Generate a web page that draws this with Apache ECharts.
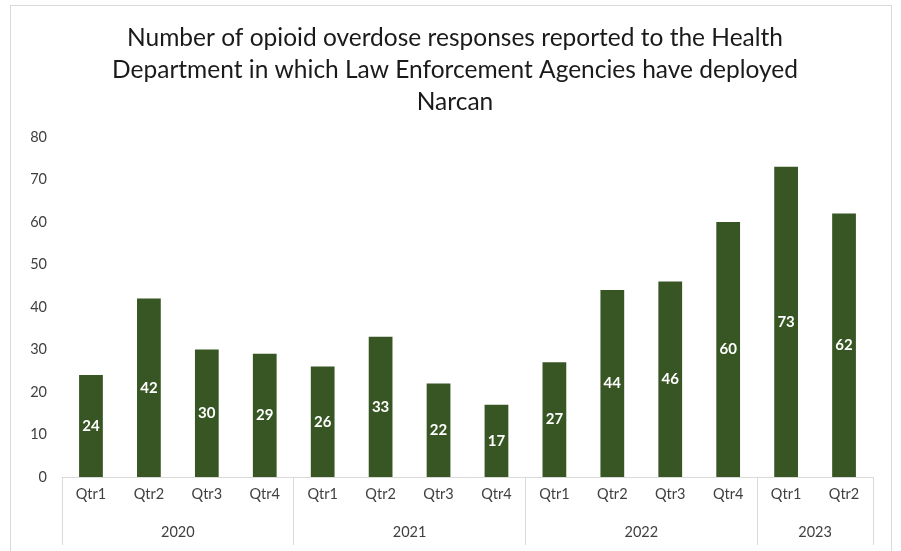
<!DOCTYPE html>
<html><head><meta charset="utf-8">
<script src="https://cdn.jsdelivr.net/npm/echarts@6/dist/echarts.min.js"></script>
<style>
html,body{margin:0;padding:0;background:#fff;}
#frame{position:absolute;left:10px;top:5px;width:882px;height:560px;border:1px solid #d9d9d9;box-sizing:border-box;}
#c{position:absolute;left:0;top:0;width:901px;height:551px;}
</style></head>
<body><div id="frame"></div><div id="c"></div>
<script>
const quarters = ['Qtr1','Qtr2','Qtr3','Qtr4','Qtr1','Qtr2','Qtr3','Qtr4','Qtr1','Qtr2','Qtr3','Qtr4','Qtr1','Qtr2'];
const values = [24,42,30,29,26,33,22,17,27,44,46,60,73,62];
const years = ['2020','2021','2022','2023'];
const yearSizes = [4,4,4,2];
const titleText = 'Number of opioid overdose responses reported to the Health\nDepartment in which Law Enforcement Agencies have deployed\nNarcan';

// half-quarter slots for the year axis (boundaryGap false)
const nSlots = quarters.length * 2 + 1;
const slotLabels = new Array(nSlots).fill('');
const tickSlots = new Set([0]);
let acc = 0;
years.forEach((y, i) => {
  slotLabels[acc * 2 + yearSizes[i]] = y;
  acc += yearSizes[i];
  tickSlots.add(acc * 2);
});
const slotCats = slotLabels.map((l, i) => 's' + i);

const font = 'Lato, "Open Sans", sans-serif';
const chart = echarts.init(document.getElementById('c'));
chart.setOption({
  animation: false,
  title: {
    text: titleText, left: 450, top: 17, textAlign: 'center',
    textStyle: { fontFamily: font, fontSize: 24.5, fontWeight: 'normal', color: '#1a1a1a', lineHeight: 32 }
  },
  grid: { left: 62, right: 28, top: 137, bottom: 74, containLabel: false },
  xAxis: [
    {
      type: 'category', data: quarters, position: 'bottom',
      axisLine: { lineStyle: { color: '#d9d9d9' } },
      axisTick: { show: false },
      axisLabel: { color: '#404040', fontFamily: font, fontSize: 14.5, margin: 10 }
    },
    {
      type: 'category', data: slotCats, position: 'bottom', boundaryGap: false,
      axisLine: { show: false },
      axisTick: { show: true, length: 68, lineStyle: { color: '#d9d9d9' },
        interval: (i) => tickSlots.has(i) },
      axisLabel: { color: '#404040', fontFamily: font, fontSize: 14.5, margin: 48,
        interval: (i) => slotLabels[i] !== '', formatter: (v, i) => slotLabels[i] }
    }
  ],
  yAxis: {
    type: 'value', min: 0, max: 80, interval: 10,
    splitLine: { show: false }, axisLine: { show: false }, axisTick: { show: false },
    axisLabel: { color: '#404040', fontFamily: font, fontSize: 14.5, margin: 15 }
  },
  series: [{
    type: 'bar', data: values, xAxisIndex: 0, barWidth: '41%',
    itemStyle: { color: '#375623' },
    label: { show: true, position: 'inside', color: '#fff', fontFamily: font, fontWeight: 'bold', fontSize: 15 }
  }]
});
</script></body></html>
